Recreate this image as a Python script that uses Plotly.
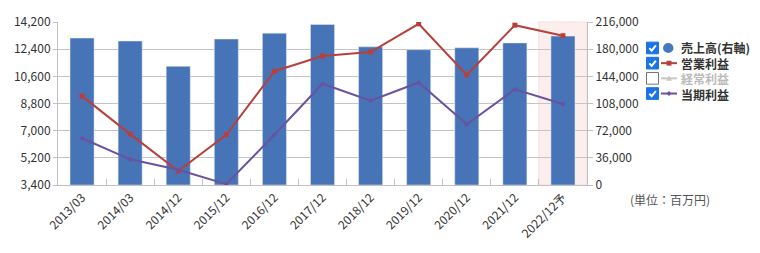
import plotly.graph_objects as go

categories = ["2013/03", "2014/03", "2014/12", "2015/12", "2016/12", "2017/12",
              "2018/12", "2019/12", "2020/12", "2021/12", "2022/12予"]
sales = [194700, 190800, 157300, 193400, 201200, 212800, 183100, 179300, 181800, 188300, 197300]
operating = [9290, 6770, 4320, 6730, 10940, 11950, 12210, 14080, 10690, 13990, 13290]
net_income = [6500, 5100, 4410, 3460, 6730, 10110, 8990, 10190, 7420, 9740, 8770]

left_ticks = [3400, 5200, 7000, 8800, 10600, 12400, 14200]
right_ticks = [0, 36000, 72000, 108000, 144000, 180000, 216000]

legend_labels = ["売上高(右軸)", "営業利益", "経常利益", "当期利益"]
legend_checked = [True, True, False, True]
unit_label = "(単位：百万円)"

W, H = 760, 253
L, R, T, B = 58, 587, 17.5, 185

BAR = "#4674b6"
RED = "#b8403c"
GRAY = "#c8c8c8"
PURPLE = "#6a52a0"
FONT = "Noto Sans CJK JP"

def px(x):
    return (x - L) / (R - L)

def py(y):
    return (B - y) / (B - T)

fig = go.Figure()
fig.add_trace(go.Bar(x=categories, y=sales, marker_color=BAR, yaxis="y",
                     name=legend_labels[0], width=0.5))
fig.add_trace(go.Scatter(x=categories, y=operating, yaxis="y2", mode="lines+markers",
                         line=dict(color=RED, width=2),
                         marker=dict(symbol="square", size=5, color=RED),
                         name=legend_labels[1]))
fig.add_trace(go.Scatter(x=categories, y=net_income, yaxis="y2", mode="lines+markers",
                         line=dict(color=PURPLE, width=2),
                         marker=dict(symbol="diamond", size=4, color=PURPLE),
                         name=legend_labels[3]))

shapes = []
# forecast highlight band
shapes.append(dict(type="rect", xref="x", yref="paper", x0=9.5, x1=10.5, y0=0, y1=1,
                   fillcolor="#fdeeee", line=dict(color="#f7dcdc", width=1), layer="below"))

annotations = []
rows_y = [44.2, 59.8, 75.4, 91.0]
for i, (lab, chk) in enumerate(zip(legend_labels, legend_checked)):
    cy = rows_y[i]
    # checkbox
    x0, x1 = 646.5, 658.5
    y0, y1 = cy - 6, cy + 6
    if chk:
        shapes.append(dict(type="rect", xref="paper", yref="paper",
                           x0=px(x0), x1=px(x1), y0=py(y1), y1=py(y0),
                           fillcolor="#1a73e8", line=dict(color="#1a73e8", width=1)))
        path = "M {:.4f},{:.4f} L {:.4f},{:.4f} L {:.4f},{:.4f}".format(
            px(x0 + 2.8), py(cy + 0.2), px(x0 + 5.2), py(cy + 2.8), px(x0 + 9.4), py(cy - 2.6))
        shapes.append(dict(type="path", xref="paper", yref="paper", path=path,
                           line=dict(color="white", width=2)))
    else:
        shapes.append(dict(type="rect", xref="paper", yref="paper",
                           x0=px(x0), x1=px(x1), y0=py(y1), y1=py(y0),
                           fillcolor="white", line=dict(color="#767676", width=1)))
    # symbol
    if i == 0:
        shapes.append(dict(type="circle", xref="paper", yref="paper",
                           x0=px(663), x1=px(673.5), y0=py(cy + 5.2), y1=py(cy - 5.2),
                           fillcolor="#4a78bd", line=dict(color="#4a78bd", width=0)))
    else:
        col = [None, RED, GRAY, PURPLE][i]
        shapes.append(dict(type="line", xref="paper", yref="paper",
                           x0=px(661), x1=px(677), y0=py(cy), y1=py(cy),
                           line=dict(color=col, width=2)))
        if i == 1:
            shapes.append(dict(type="rect", xref="paper", yref="paper",
                               x0=px(666.5), x1=px(671.5), y0=py(cy + 2.5), y1=py(cy - 2.5),
                               fillcolor=col, line=dict(width=0)))
        elif i == 2:
            shapes.append(dict(type="path", xref="paper", yref="paper",
                               path="M {:.4f},{:.4f} L {:.4f},{:.4f} L {:.4f},{:.4f} Z".format(
                                   px(666), py(cy + 2.5), px(672), py(cy + 2.5), px(669), py(cy - 3)),
                               fillcolor=col, line=dict(width=0)))
        else:
            shapes.append(dict(type="path", xref="paper", yref="paper",
                               path="M {:.4f},{:.4f} L {:.4f},{:.4f} L {:.4f},{:.4f} L {:.4f},{:.4f} Z".format(
                                   px(669), py(cy - 2.5), px(671.5), py(cy), px(669), py(cy + 2.5), px(666.5), py(cy)),
                               fillcolor=col, line=dict(width=0)))

legend_lines = []
for lab, chk in zip(legend_labels, legend_checked):
    if chk:
        legend_lines.append("<b>" + lab + "</b>")
    else:
        legend_lines.append('<b><span style="color:#bbbbbb">' + lab + "</span></b>")
annotations.append(dict(xref="paper", yref="paper", x=px(680), y=py((rows_y[0] + rows_y[-1]) / 2),
                        xanchor="left", yanchor="middle", showarrow=False, align="left",
                        borderpad=0, text="<br>".join(legend_lines),
                        font=dict(family=FONT, size=12, color="#333333")))

annotations.append(dict(xref="paper", yref="paper", x=px(628), y=py(200),
                        xanchor="left", yanchor="middle", showarrow=False,
                        text=unit_label, font=dict(family=FONT, size=12, color="#555555")))

fig.update_layout(
    width=W, height=H,
    margin=dict(l=L, r=W - R, t=T, b=H - B, pad=0),
    paper_bgcolor="white", plot_bgcolor="rgba(0,0,0,0)",
    showlegend=False,
    bargap=0.5,
    font=dict(family=FONT, size=12, color="#333333"),
    xaxis=dict(type="category", tickangle=-45, ticks="inside", ticklen=6,
               tickson="boundaries", tickcolor="#c0c0c0", showgrid=False,
               showline=True, linecolor="#c0c0c0", linewidth=1,
               tickfont=dict(family=FONT, size=12, color="#333333"),
               range=[-0.5, 10.5]),
    yaxis=dict(side="right", range=[0, 216000], tickvals=right_ticks,
               ticktext=[f"{v:,}" for v in right_ticks],
               ticks="outside", ticklen=5, tickcolor="#c0c0c0",
               showline=True, linecolor="#c0c0c0", linewidth=1,
               showgrid=True, gridcolor="#c4c4c4", gridwidth=1, zeroline=False,
               tickfont=dict(family=FONT, size=12, color="#333333"), fixedrange=True),
    yaxis2=dict(side="left", overlaying="y", range=[3400, 14200], tickvals=left_ticks,
                ticktext=[f"{v:,}" for v in left_ticks],
                ticks="outside", ticklen=4, tickcolor="#c0c0c0",
                showline=True, linecolor="#c0c0c0", linewidth=1,
                showgrid=False, zeroline=False,
                tickfont=dict(family=FONT, size=12, color="#333333")),
    shapes=shapes,
    annotations=annotations,
)

fig.write_html("out.html")
